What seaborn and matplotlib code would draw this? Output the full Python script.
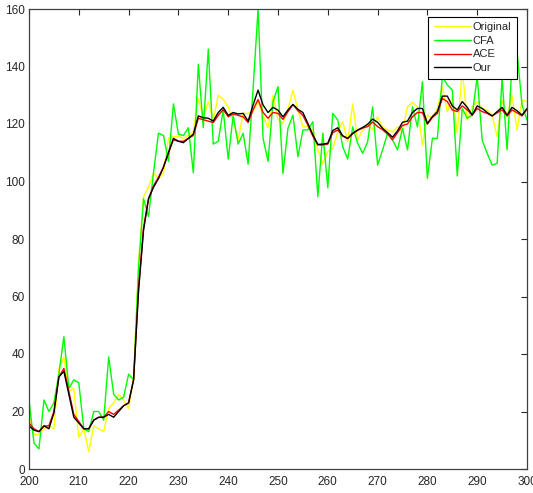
import numpy as np
import pandas as pd
import matplotlib
matplotlib.use("Agg")
import matplotlib.pyplot as plt
import seaborn as sns

# x positions (frame index)
frames = list(range(200, 301))

original = [18.5, 12, 12, 14, 15, 14, 35, 39, 27, 28,
            11, 14, 6, 15, 14, 13, 21, 23, 26, 24,
            21, 32, 72, 94.7, 98, 103, 101, 103, 115, 115.6,
            115.6, 115, 116, 117.3, 128.9, 122, 127.8, 121.4, 130, 128.5,
            126, 121, 114.4, 123.7, 123.7, 124.3, 127.8, 123, 118.7, 130,
            121.6, 120.2, 125.1, 131.8, 124.9, 119, 119, 117.9, 111, 106.1,
            110.4, 111.5, 117.3, 120.8, 113.8, 127, 114.4, 117.9, 120.2, 117.9,
            122.5, 119, 117.9, 117.3, 119, 117.3, 126, 127.6, 126, 112.7,
            123.1, 122, 125.4, 133, 124.3, 129.5, 116.8, 138.8, 121.4, 126,
            127.8, 125.4, 124.9, 123.1, 115.6, 128.3, 122.6, 130, 117.9, 128.3,
            127.8]

cfa = [24, 9, 7, 24, 20, 23, 33, 46, 28, 31,
       30, 14, 13, 20, 20, 17, 39, 26, 24, 25,
       33, 31, 70, 94, 87.8, 103, 116.8, 116, 107, 127,
       116.5, 116, 118.7, 103, 140.8, 118.7, 146, 113, 114, 124.9,
       107.8, 123, 113, 116.8, 106, 132.4, 160, 115, 107, 127.8,
       133, 102.8, 118.5, 123.1, 108.6, 117.9, 118, 120.8, 94.7, 116.8,
       97.8, 123.7, 121.4, 112.1, 107.8, 119, 113.3, 109.8, 113.8, 126,
       105.7, 111, 116.8, 114.4, 111, 118.5, 111, 126, 119, 134.7,
       101.1, 115, 115, 136.5, 133.6, 131.8, 101.9, 125.4, 122, 123.1,
       136.5, 114.4, 109.8, 105.7, 106.3, 135.9, 111, 141, 145.2, 126.6,
       121.4]

ace = [16, 14, 13, 15, 15, 20, 32, 35, 27, 19,
       16.5, 14, 14, 17, 18, 18, 20, 19, 20.5, 22,
       23, 31, 63, 84, 94, 98.5, 101.5, 105, 110, 114.5,
       114, 114, 115, 116, 122, 121.5, 121, 120.5, 123, 125,
       122.5, 123.5, 123, 122.5, 120.5, 125, 128.5, 124, 122, 124,
       123.7, 121.6, 124.3, 126.8, 124.6, 123, 119.6, 115.8, 112.7, 112.7,
       113, 117, 117.9, 115.8, 114.9, 116.6, 117.8, 118.6, 119.1, 120.7,
       119.1, 118, 116.5, 114.5, 117, 119.5, 120, 122.5, 124, 124,
       119.9, 122.3, 123.7, 128.9, 127.8, 124.9, 124.3, 126.3, 124.9, 123.1,
       125.4, 124.3, 123.7, 122.8, 123.9, 124.9, 122.8, 124.9, 123.9, 122.8,
       125.1]

ours = [15, 13.5, 13, 15, 14, 19.5, 32, 34, 26, 18,
        16, 14, 14, 17, 18, 18, 19, 18, 20, 22,
        23, 31, 62, 83, 94, 98, 101, 105, 110, 115,
        114, 113.5, 115, 116.5, 122.8, 122.2, 122, 121, 124, 125.8,
        123, 124, 123.5, 123.7, 121, 126.6, 131.8, 126.6, 124, 125.8,
        124.8, 122.5, 124.9, 126.8, 125.1, 124, 120.2, 116.2, 112.9, 113,
        113.3, 117.7, 118.7, 115.9, 115, 116.8, 117.9, 118.8, 119.9, 121.7,
        120.6, 118.5, 117, 115.4, 117.6, 120.6, 121, 124, 125.4, 125.4,
        120.2, 122.6, 124.3, 129.7, 129.7, 126.3, 124.9, 127.8, 125.8, 123.1,
        126.3, 125.4, 124, 122.8, 124.3, 125.8, 123.1, 125.8, 124.6, 123.1,
        125.4]

labels = ["Original", "CFA", "ACE", "Our"]
colors = {"Original": "#ffff00", "CFA": "#00ff00", "ACE": "#ff0000", "Our": "#000000"}

df = pd.concat([
    pd.DataFrame({"frame": frames, "value": vals, "method": name})
    for name, vals in zip(labels, [original, cfa, ace, ours])
])

sns.set_style("white")
plt.rcParams["font.family"] = ["Liberation Sans", "DejaVu Sans"]

fig = plt.figure(figsize=(5.33, 4.93), dpi=100)
ax = fig.add_axes([29 / 533, 1 - 469 / 493, 498 / 533, 460 / 493])

sns.lineplot(data=df, x="frame", y="value", hue="method", hue_order=labels,
             palette=colors, linewidth=1.0, ax=ax, estimator=None, sort=False)

ax.set_xlim(200, 300)
ax.set_ylim(0, 160)
ax.set_xticks(np.arange(200, 301, 10))
ax.set_yticks(np.arange(0, 161, 20))
ax.set_xlabel("")
ax.set_ylabel("")
ax.tick_params(direction="in", top=True, right=True, length=4, width=0.8,
               labelsize=8.5, colors="#262626", pad=3)
ax.tick_params(axis="x", pad=5)
for s in ax.spines.values():
    s.set_color("#404040")
    s.set_linewidth(0.9)

leg = ax.legend(loc="upper right", bbox_to_anchor=(0.98, 0.983), borderaxespad=0,
                fontsize=8, handlelength=3.3, handletextpad=0.2, labelspacing=0.32,
                borderpad=0.5, fancybox=False, framealpha=1)
leg.get_frame().set_edgecolor("#000000")
leg.get_frame().set_linewidth(0.8)

fig.savefig("out.png", dpi=100)
